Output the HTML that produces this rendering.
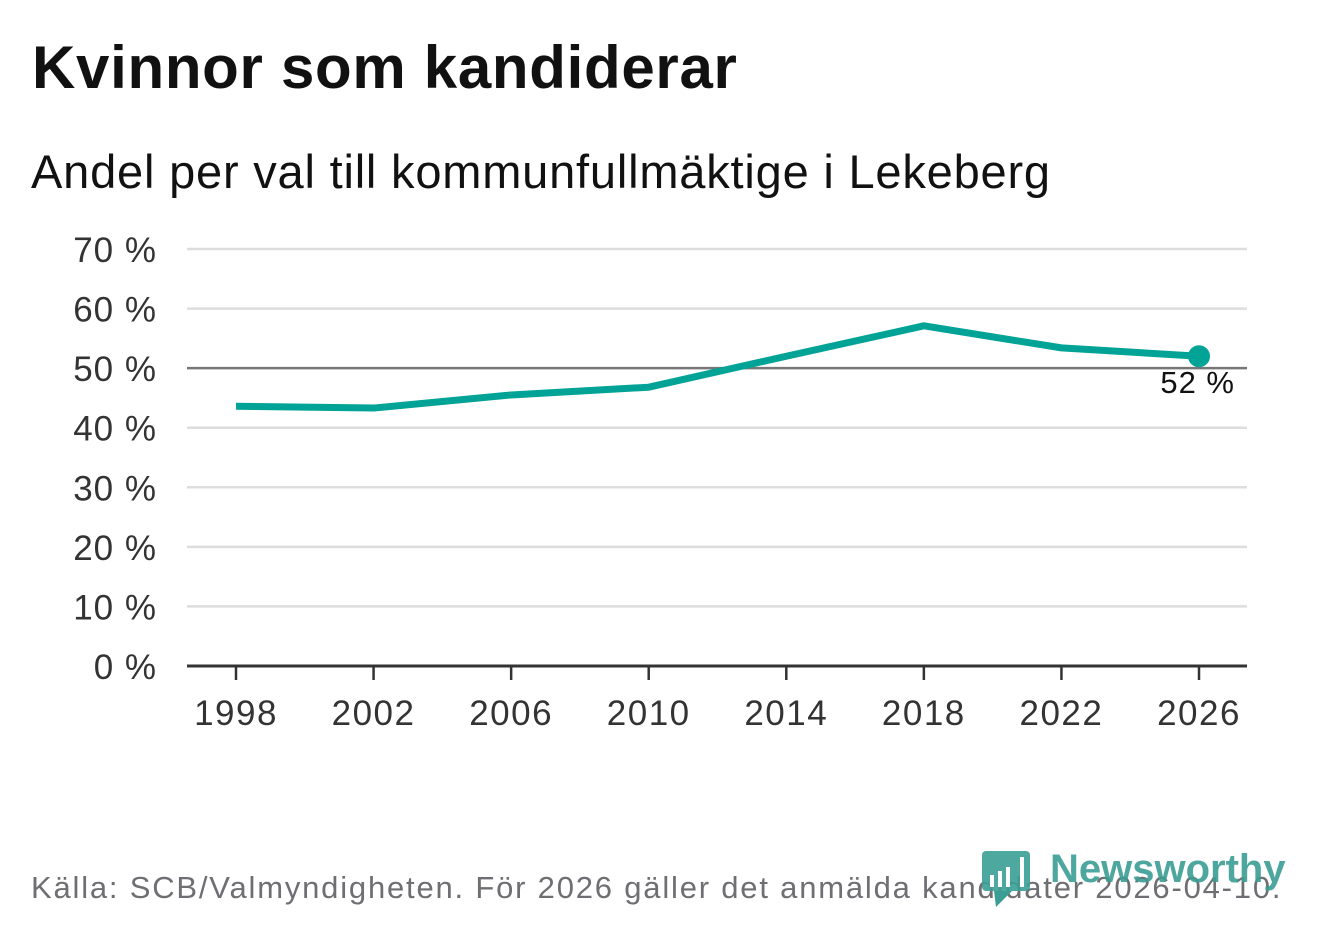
<!DOCTYPE html>
<html><head><meta charset="utf-8"><style>
body{margin:0;width:1322px;height:939px;background:#fff;overflow:hidden;font-family:"Liberation Sans","DejaVu Sans",sans-serif;position:relative}
.t{position:absolute;white-space:nowrap}
</style></head><body>
<div class="t" style="left:32px;top:33px;font-size:60px;font-weight:bold;color:#111;letter-spacing:0.7px">Kvinnor som kandiderar</div>
<div class="t" style="left:31px;top:144px;font-size:47px;color:#111;letter-spacing:0.8px">Andel per val till kommunfullmäktige i Lekeberg</div>
<svg id="c" width="1322" height="939" style="position:absolute;left:0;top:0"></svg>
<div class="t" style="left:31px;top:870px;font-size:31px;color:#6e6e73;letter-spacing:1.8px">Källa: SCB/Valmyndigheten. För 2026 gäller det anmälda kandidater 2026-04-10.</div>
<div class="t" style="left:982px;top:851px;">
<svg width="50" height="58"><rect x="0" y="0" width="48" height="40" rx="4" fill="#3a9e95" fill-opacity="0.9"/><polygon points="12,40 30,40 14,56" fill="#3a9e95"/><rect x="8" y="24" width="4" height="12" fill="#fff"/><rect x="16" y="20" width="4" height="16" fill="#fff"/><rect x="24" y="16" width="4" height="20" fill="#fff"/><rect x="38" y="6" width="4" height="30" fill="#fff"/></svg>
<span style="position:absolute;left:68px;top:-4px;font-size:40px;font-weight:bold;color:#3a9e95;opacity:0.9">Newsworthy</span></div>
<script>
const years=[1998,2002,2006,2010,2014,2018,2022,2026];
const values=[43.6,43.3,45.5,46.8,52.0,57.1,53.4,52.0];
const yTicks=[0,10,20,30,40,50,60,70];
const svg=document.getElementById('c');const NS='http://www.w3.org/2000/svg';
const x=v=>236+(v-1998)*(1199-236)/28;
const y=v=>666-v*(666-249)/70;
function mk(t,a){const e=document.createElementNS(NS,t);for(const k in a)e.setAttribute(k,a[k]);svg.appendChild(e);return e;}
yTicks.forEach(t=>{
 const l=mk('line',{x1:187,x2:1247,y1:y(t),y2:y(t),stroke:t==50?'#777':(t==0?'#333':'#ddd'),'stroke-width':t==0?3:2.5});
 
 
 const tx=mk('text',{x:157,y:y(t)+13,'text-anchor':'end','font-size':35,fill:'#333','font-family':'Liberation Sans, sans-serif','letter-spacing':1});
 tx.textContent=t+' %';
 
 
});
years.forEach(yr=>{
 const l=mk('line',{x1:x(yr),x2:x(yr),y1:666,y2:680,stroke:'#333','stroke-width':2.5});
 
 
 const tx=mk('text',{x:x(yr),y:725,'text-anchor':'middle','font-size':35,fill:'#333','font-family':'Liberation Sans, sans-serif','letter-spacing':1.5});
 tx.textContent=yr;
 
 
});
const p=mk('polyline',{points:years.map((yr,i)=>x(yr)+','+y(values[i])).join(' '),fill:'none',stroke:'#00a395','stroke-width':7,'stroke-linejoin':'round'});


const n=years.length-1;
const d=mk('circle',{cx:x(years[n]),cy:y(values[n]),r:11,fill:'#00a395'});


const lb=mk('text',{x:x(years[n])+36,y:y(values[n])+37,'text-anchor':'end','font-size':31,fill:'#111','font-family':'Liberation Sans, sans-serif',stroke:'#fff','stroke-width':4,'paint-order':'stroke','letter-spacing':1});
lb.textContent=Math.round(values[n])+' %';


</script>
</body></html>
